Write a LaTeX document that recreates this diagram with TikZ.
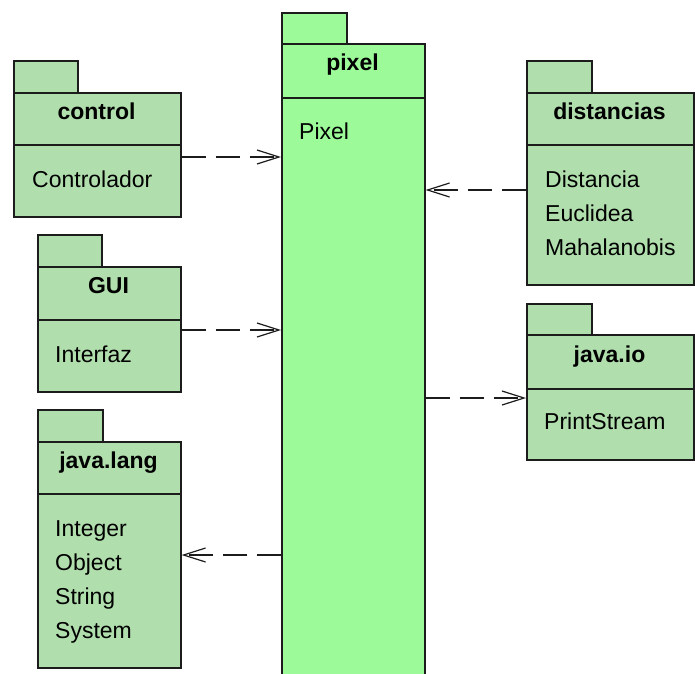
\documentclass[tikz,border=0pt]{standalone}
\usepackage{fontspec}
\setmainfont{Liberation Sans}
\usetikzlibrary{arrows.meta}
\definecolor{pkgfill}{HTML}{B0DEAC}
\definecolor{mainfill}{HTML}{9CFA98}
\definecolor{edge}{HTML}{1C1C1C}
\tikzset{
  box/.style={draw=edge, line width=1.6pt, fill=pkgfill, anchor=north west, inner sep=0pt},
  mainbox/.style={box, fill=mainfill},
  title/.style={anchor=base, font=\fontsize{23}{28}\selectfont\bfseries, inner sep=0pt},
  item/.style={anchor=base west, font=\fontsize{23}{28}\selectfont, inner sep=0pt},
  dep/.style={draw=edge, line width=1.3pt, dash pattern=on 24pt off 10pt,
    -{Straight Barb[length=22pt, width=14pt, line width=1.2pt]}}
}
\begin{document}
\begin{tikzpicture}[x=1pt, y=-1pt]
\useasboundingbox (0,0) rectangle (695,673);
\clip (0,0) rectangle (695,673);

% package pixel (central, runs past the lower edge)
\node[mainbox, minimum width=65pt, minimum height=31pt] (pixtab) at (281,12) {};
\node[mainbox, minimum width=143pt, minimum height=54pt] (pixhead) at (281,43) {};
\node[mainbox, minimum width=143pt, minimum height=600pt] (pix) at (281,97) {};
\node[title] (pixname) at (352.5,70) {pixel};
\node[item] (pixcls) at (299,139) {Pixel};

% package control
\node[box, minimum width=64pt, minimum height=32pt] (ctrltab) at (13,60) {};
\node[box, minimum width=167pt, minimum height=52pt] (ctrlhead) at (13,92) {};
\node[box, minimum width=167pt, minimum height=72pt] (ctrl) at (13,144) {};
\node[title] (ctrlname) at (96.5,119) {control};
\node[item] (ctrlcls) at (32,187) {Controlador};

% package GUI
\node[box, minimum width=64pt, minimum height=32pt] (guitab) at (37,234) {};
\node[box, minimum width=143pt, minimum height=53pt] (guihead) at (37,266) {};
\node[box, minimum width=143pt, minimum height=72pt] (gui) at (37,319) {};
\node[title] (guiname) at (108.5,293) {GUI};
\node[item] (guicls) at (55,362) {Interfaz};

% package java.lang
\node[box, minimum width=65pt, minimum height=32pt] (langtab) at (37,409) {};
\node[box, minimum width=143pt, minimum height=52pt] (langhead) at (37,441) {};
\node[box, minimum width=143pt, minimum height=174pt] (lang) at (37,493) {};
\node[title] (langname) at (108.5,468) {java.lang};
\node[item] (lang1) at (55,536) {Integer};
\node[item] (lang2) at (55,570) {Object};
\node[item] (lang3) at (55,604) {String};
\node[item] (lang4) at (55,638) {System};

% package distancias
\node[box, minimum width=65pt, minimum height=32pt] (disttab) at (526,60) {};
\node[box, minimum width=167pt, minimum height=52pt] (disthead) at (526,92) {};
\node[box, minimum width=167pt, minimum height=140pt] (dist) at (526,144) {};
\node[title] (distname) at (609.5,119) {distancias};
\node[item] (dist1) at (545,187) {Distancia};
\node[item] (dist2) at (545,221) {Euclidea};
\node[item] (dist3) at (545,255) {Mahalanobis};

% package java.io
\node[box, minimum width=65pt, minimum height=31pt] (iotab) at (526,303) {};
\node[box, minimum width=167pt, minimum height=54pt] (iohead) at (526,334) {};
\node[box, minimum width=167pt, minimum height=71pt] (io) at (526,388) {};
\node[title] (ioname) at (609.5,362) {java.io};
\node[item] (iocls) at (544,429) {PrintStream};

% dependencies
\draw[dep] (ctrl.east |- 0,157) -- (pix.west |- 0,157);
\draw[dep] (gui.east |- 0,330) -- (pix.west |- 0,330);
\draw[dep] (dist.west |- 0,190) -- (pix.east |- 0,190);
\draw[dep] (pix.east |- 0,398) -- (io.west |- 0,398);
\draw[dep] (pix.west |- 0,555) -- (lang.east |- 0,555);
\end{tikzpicture}
\end{document}
